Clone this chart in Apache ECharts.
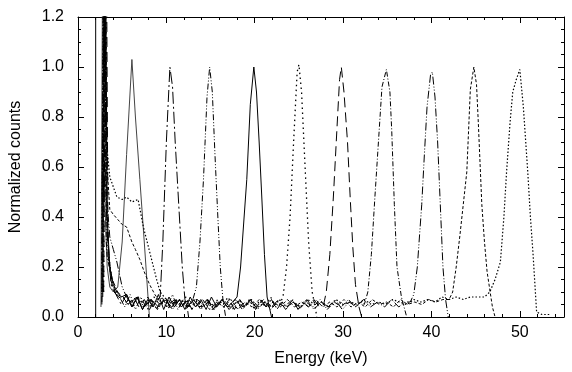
<!DOCTYPE html>
<html><head><meta charset="utf-8">
<script src="https://cdn.jsdelivr.net/npm/echarts@6/dist/echarts.min.js"></script>
<style>html,body{margin:0;padding:0;background:#fff}#c{width:572px;height:372px}</style>
</head><body><div id="c"></div>
<script>
// Axis settings
const xTicks = [0, 10, 20, 30, 40, 50];
const yTicks = [0.0, 0.2, 0.4, 0.6, 0.8, 1.0, 1.2];
const xTitle = "Energy (keV)";
const yTitle = "Normalized counts";

// Threshold line at 2 keV
const threshold = [[2, 0], [2, 1.2]];

// Spectra: [energy keV, normalized counts]
const s6 = [[2.6,0.04],[2.8,1.6],[3.0,0.5],[3.3,0.2],[3.6,0.12],[4.0,0.1],[4.5,0.12],[5.0,0.3],[5.5,0.65],[6.1,1.03],[6.5,0.8],[7.0,0.55],[7.5,0.3],[8.0,0.04],[8.2,-0.05]];
const s10 = [[2.7,0.05],[2.9,1.6],[3.1,0.55],[3.4,0.25],[3.8,0.12],[4.3,0.09],[4.9,0.05],[5.5,0.09],[6.1,0.04],[6.7,0.08],[7.3,0.03],[7.9,0.08],[8.5,0.04],[9.0,0.07],[9.3,0.08],[9.6,0.3],[10.0,0.7],[10.4,1.0],[10.7,0.92],[11.0,0.7],[11.4,0.45],[11.8,0.2],[12.1,0.07],[12.4,0.03],[12.7,-0.05]];
const s15 = [[2.7,0.06],[3.0,1.6],[3.2,0.5],[3.5,0.24],[3.8,0.15],[4.2,0.1],[4.7,0.08],[5.3,0.04],[5.9,0.09],[6.5,0.03],[7.1,0.08],[7.7,0.04],[8.3,0.07],[8.9,0.03],[9.5,0.08],[10.1,0.04],[10.7,0.09],[11.3,0.03],[11.9,0.07],[12.5,0.04],[13.0,0.07],[13.4,0.12],[13.8,0.3],[14.2,0.55],[14.6,0.88],[14.9,1.0],[15.2,0.9],[15.5,0.65],[15.8,0.42],[16.1,0.2],[16.4,0.07],[16.8,-0.02]];
const s20 = [[2.8,0.08],[3.1,1.6],[3.3,0.4],[3.6,0.2],[4.0,0.13],[4.4,0.1],[4.9,0.08],[5.5,0.09],[6.1,0.04],[6.7,0.08],[7.3,0.03],[7.9,0.07],[8.5,0.04],[9.1,0.09],[9.7,0.03],[10.3,0.08],[10.9,0.04],[11.5,0.07],[12.1,0.03],[12.7,0.08],[13.3,0.04],[13.9,0.07],[14.5,0.03],[15.1,0.08],[15.7,0.04],[16.3,0.07],[16.9,0.04],[17.5,0.06],[18.0,0.08],[18.4,0.2],[18.8,0.4],[19.1,0.55],[19.5,0.85],[19.9,1.0],[20.2,0.9],[20.5,0.7],[20.8,0.48],[21.1,0.25],[21.4,0.08],[21.9,0.0],[22.2,-0.05]];
const s25 = [[2.9,0.1],[3.1,1.6],[3.3,0.35],[3.5,0.24],[3.8,0.16],[4.1,0.12],[4.5,0.09],[5.0,0.08],[5.6,0.07],[6.2,0.04],[6.8,0.08],[7.4,0.05],[8.0,0.03],[8.6,0.08],[9.2,0.05],[9.8,0.07],[10.4,0.03],[11.0,0.07],[11.6,0.05],[12.2,0.08],[12.8,0.03],[13.4,0.07],[14.0,0.04],[14.6,0.07],[15.2,0.03],[15.8,0.07],[16.4,0.05],[17.0,0.08],[17.6,0.03],[18.2,0.07],[18.8,0.04],[19.4,0.07],[20.0,0.03],[20.6,0.07],[21.2,0.04],[21.8,0.08],[22.4,0.04],[22.8,0.05],[23.2,0.08],[23.6,0.2],[24.0,0.4],[24.4,0.7],[24.8,0.98],[25.0,1.01],[25.3,0.9],[25.7,0.6],[26.1,0.3],[26.5,0.1],[26.9,0.03],[27.2,-0.05]];
const s30 = [[2.9,0.1],[3.2,1.6],[3.4,0.3],[3.7,0.15],[4.1,0.1],[4.6,0.08],[5.1,0.07],[5.7,0.05],[6.3,0.08],[6.9,0.04],[7.5,0.07],[8.1,0.03],[8.7,0.07],[9.3,0.05],[9.9,0.08],[10.5,0.03],[11.1,0.07],[11.7,0.04],[12.3,0.07],[12.9,0.03],[13.5,0.07],[14.1,0.05],[14.7,0.07],[15.3,0.03],[15.9,0.06],[16.5,0.04],[17.1,0.07],[17.7,0.03],[18.3,0.07],[18.9,0.04],[19.5,0.07],[20.1,0.03],[20.7,0.07],[21.3,0.04],[21.9,0.07],[22.5,0.03],[23.1,0.06],[23.7,0.04],[24.3,0.07],[24.9,0.03],[25.5,0.06],[26.1,0.04],[26.7,0.07],[27.3,0.04],[27.8,0.05],[28.1,0.1],[28.5,0.25],[28.9,0.48],[29.3,0.75],[29.6,0.95],[29.8,1.0],[30.1,0.9],[30.5,0.7],[30.8,0.48],[31.1,0.28],[31.4,0.13],[31.8,0.04],[32.1,0.0],[32.4,-0.05]];
const s35 = [[2.8,0.1],[3.0,1.6],[3.2,0.3],[3.3,0.24],[3.6,0.19],[4.0,0.14],[4.5,0.1],[5.0,0.08],[5.8,0.05],[6.6,0.08],[7.4,0.04],[8.2,0.07],[9.0,0.03],[9.8,0.07],[10.6,0.04],[11.4,0.07],[12.2,0.03],[13.0,0.07],[13.8,0.04],[14.6,0.07],[15.4,0.03],[16.2,0.06],[17.0,0.04],[17.8,0.07],[18.6,0.03],[19.4,0.06],[20.2,0.04],[21.0,0.07],[21.8,0.03],[22.6,0.06],[23.4,0.04],[24.2,0.07],[25.0,0.03],[25.8,0.06],[26.6,0.04],[27.4,0.07],[28.2,0.03],[29.0,0.06],[29.8,0.04],[30.6,0.07],[31.4,0.04],[32.0,0.06],[32.4,0.05],[32.8,0.1],[33.2,0.25],[33.6,0.48],[34.0,0.7],[34.4,0.92],[34.9,0.99],[35.3,0.9],[35.5,0.75],[35.8,0.45],[36.1,0.2],[36.6,0.08],[37.2,0.0],[37.5,-0.05]];
const s40 = [[2.7,0.1],[2.9,1.6],[3.2,0.5],[3.6,0.32],[4.0,0.27],[4.4,0.22],[5.0,0.12],[5.5,0.08],[5.9,0.06],[6.7,0.08],[7.5,0.04],[8.3,0.07],[9.1,0.04],[9.9,0.07],[10.7,0.03],[11.5,0.07],[12.3,0.04],[13.1,0.07],[13.9,0.03],[14.7,0.06],[15.5,0.04],[16.3,0.07],[17.1,0.03],[17.9,0.06],[18.7,0.04],[19.5,0.07],[20.3,0.03],[21.1,0.06],[21.9,0.04],[22.7,0.07],[23.5,0.03],[24.3,0.06],[25.1,0.04],[25.9,0.07],[26.7,0.03],[27.5,0.06],[28.3,0.04],[29.1,0.07],[29.9,0.03],[30.7,0.06],[31.5,0.04],[32.3,0.07],[33.1,0.04],[33.9,0.06],[34.7,0.04],[35.5,0.07],[36.3,0.04],[37.0,0.06],[37.6,0.06],[38.0,0.09],[38.4,0.2],[38.9,0.45],[39.2,0.65],[39.5,0.84],[39.9,0.97],[40.1,0.98],[40.4,0.88],[40.7,0.7],[41.0,0.45],[41.3,0.2],[41.6,0.07],[41.9,0.0],[42.1,-0.05]];
const s45 = [[2.8,0.1],[3.0,1.6],[3.3,0.6],[3.6,0.43],[4.0,0.41],[4.5,0.39],[5.0,0.37],[5.5,0.36],[6.1,0.3],[6.5,0.27],[7.0,0.23],[7.5,0.18],[8.1,0.13],[8.7,0.09],[9.3,0.06],[10.1,0.04],[10.9,0.07],[11.7,0.04],[12.5,0.07],[13.3,0.04],[14.1,0.07],[14.9,0.03],[15.7,0.06],[16.5,0.04],[17.3,0.07],[18.1,0.03],[18.9,0.06],[19.7,0.04],[20.5,0.07],[21.3,0.04],[22.1,0.06],[22.9,0.04],[23.7,0.07],[24.5,0.04],[25.3,0.06],[26.1,0.04],[26.9,0.07],[27.7,0.04],[28.5,0.06],[29.3,0.04],[30.1,0.07],[30.9,0.04],[31.7,0.06],[32.5,0.04],[33.3,0.07],[34.1,0.05],[34.9,0.06],[35.7,0.04],[36.5,0.07],[37.3,0.05],[38.1,0.06],[38.9,0.05],[39.7,0.07],[40.5,0.06],[41.3,0.07],[42.0,0.07],[42.4,0.1],[42.8,0.2],[43.2,0.32],[43.6,0.45],[44.0,0.58],[44.4,0.91],[44.8,1.0],[45.1,0.93],[45.3,0.78],[45.7,0.45],[46.0,0.3],[46.3,0.18],[46.9,0.04],[47.2,0.0],[47.5,-0.05]];
const s50 = [[2.7,0.1],[2.9,1.6],[3.2,0.7],[3.6,0.56],[4.0,0.52],[4.4,0.48],[5.0,0.47],[5.5,0.48],[6.1,0.46],[6.8,0.47],[7.4,0.36],[7.9,0.29],[8.4,0.22],[8.9,0.15],[9.3,0.1],[10.0,0.07],[10.8,0.05],[11.6,0.07],[12.4,0.04],[13.2,0.07],[14.0,0.04],[14.8,0.06],[15.6,0.04],[16.4,0.07],[17.2,0.04],[18.0,0.06],[18.8,0.04],[19.6,0.07],[20.4,0.04],[21.2,0.06],[22.0,0.04],[22.8,0.07],[23.6,0.04],[24.4,0.06],[25.2,0.04],[26.0,0.07],[26.8,0.05],[27.6,0.06],[28.4,0.04],[29.2,0.07],[30.0,0.05],[30.8,0.06],[31.6,0.05],[32.4,0.07],[33.2,0.05],[34.0,0.06],[34.8,0.05],[35.6,0.07],[36.4,0.06],[37.2,0.05],[38.0,0.07],[38.8,0.06],[39.6,0.07],[40.4,0.06],[41.2,0.08],[42.0,0.07],[42.8,0.08],[43.6,0.07],[44.4,0.08],[45.2,0.08],[46.0,0.08],[46.6,0.1],[47.2,0.15],[47.8,0.22],[48.2,0.4],[48.5,0.58],[48.9,0.78],[49.2,0.9],[49.6,0.95],[50.0,0.99],[50.4,0.84],[50.9,0.58],[51.2,0.4],[51.5,0.25],[51.9,0.02],[52.5,0.01],[53.5,0.01]];

const FONT = "Liberation Sans, Arial, sans-serif";
const chart = echarts.init(document.getElementById('c'), null, {renderer: 'canvas'});

function spec(name, data, type, color, width) {
  return {
    name: name, type: 'line', data: data, xAxisIndex: 0, yAxisIndex: 0,
    showSymbol: false, symbol: 'none', clip: true, animation: false,
    lineStyle: {color: color || '#000', width: width || 1, type: type}
  };
}

const axisCommon = {
  axisLine: {show: true, onZero: false, lineStyle: {color: '#000', width: 1}},
  axisTick: {show: true, inside: true, length: 6, lineStyle: {color: '#000'}},
  minorTick: {show: true, length: 3, lineStyle: {color: '#000'}},
  splitLine: {show: false},
  minorSplitLine: {show: false}
};

chart.setOption({
  animation: false,
  backgroundColor: '#fff',
  grid: {left: 78, right: 8, top: 17, bottom: 48, containLabel: false},
  xAxis: [
    Object.assign({}, axisCommon, {
      type: 'value', position: 'bottom', min: 0, max: 55, interval: 10,
      minorTick: Object.assign({}, axisCommon.minorTick, {splitNumber: 5}),
      axisLabel: {color: '#000', fontFamily: FONT, fontSize: 16, margin: 8,
        formatter: v => xTicks.includes(v) ? String(v) : ''},
      name: xTitle, nameLocation: 'middle', nameGap: 34,
      nameTextStyle: {color: '#000', fontFamily: FONT, fontSize: 16}
    }),
    Object.assign({}, axisCommon, {
      type: 'value', position: 'top', min: 0, max: 55, interval: 10,
      minorTick: Object.assign({}, axisCommon.minorTick, {splitNumber: 5}),
      axisLabel: {show: false}
    })
  ],
  yAxis: [
    Object.assign({}, axisCommon, {
      type: 'value', position: 'left', min: 0, max: 1.2, interval: 0.2,
      minorTick: Object.assign({}, axisCommon.minorTick, {splitNumber: 4}),
      axisLabel: {color: '#000', fontFamily: FONT, fontSize: 16, margin: 14,
        formatter: v => yTicks.some(t => Math.abs(t - v) < 1e-9) ? v.toFixed(1) : ''},
      name: yTitle, nameLocation: 'middle', nameGap: 54, nameRotate: 90,
      nameTextStyle: {color: '#000', fontFamily: FONT, fontSize: 16}
    }),
    Object.assign({}, axisCommon, {
      type: 'value', position: 'right', min: 0, max: 1.2, interval: 0.2,
      minorTick: Object.assign({}, axisCommon.minorTick, {splitNumber: 4}),
      axisLabel: {show: false}
    })
  ],
  series: [
    spec('threshold', threshold, 'solid', '#000'),
    spec('6 keV', s6, 'solid', '#444'),
    spec('10.5 keV', s10, [12, 3, 2, 3], '#000'),
    spec('15 keV', s15, [6, 2, 1, 2, 1, 2], '#000'),
    spec('20 keV', s20, 'solid', '#000'),
    spec('25 keV', s25, [1.5, 3.5], '#000', 1.3),
    spec('30 keV', s30, [10, 5], '#000'),
    spec('35 keV', s35, [5, 2, 1, 2], '#000'),
    spec('40 keV', s40, [8, 2, 1, 2, 1, 2], '#000'),
    spec('45 keV', s45, [3, 2], '#000'),
    spec('50 keV', s50, [1.5, 2], '#000', 1.2)
  ]
});
</script>
</body></html>
